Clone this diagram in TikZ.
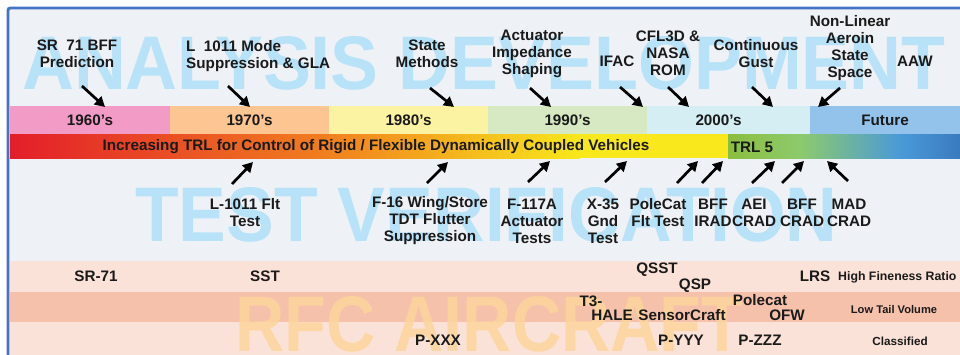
\documentclass[tikz,border=0pt]{standalone}
\usepackage{fontspec}
\setmainfont{Liberation Sans}
\usepackage{xcolor}
\usetikzlibrary{arrows.meta,positioning}

\definecolor{frameblue}{HTML}{4472C4}
\definecolor{panelbg}{HTML}{EEF1F6}
\definecolor{c1960}{HTML}{F29BC6}
\definecolor{c1970}{HTML}{FCC592}
\definecolor{c1980}{HTML}{FBF3A2}
\definecolor{c1990}{HTML}{D6E9C2}
\definecolor{c2000}{HTML}{D5EEF4}
\definecolor{cfuture}{HTML}{93C3EA}
\definecolor{trlred}{HTML}{E31E2A}
\definecolor{trlorange}{HTML}{F07D1F}
\definecolor{trlyellow}{HTML}{F8E81C}
\definecolor{trlgreen}{HTML}{8BBE3F}
\definecolor{trllime}{HTML}{8DCA6C}
\definecolor{trlsky}{HTML}{4A9AD8}
\definecolor{trlblue}{HTML}{3673B9}
\definecolor{rowlight}{HTML}{FBE2D8}
\definecolor{rowdark}{HTML}{F6C1AB}
\definecolor{wmblue}{HTML}{B8E2F8}
\definecolor{wmorange}{HTML}{FDD49C}
\definecolor{ink}{HTML}{1A1A1A}

\begin{document}
\begin{tikzpicture}[
  x=0.03cm, y=-0.03cm,
  every node/.style={font=\bfseries\fontsize{13}{14.5}\selectfont, align=center, text=ink, inner sep=0pt},
  lbl/.style={},
  small/.style={font=\bfseries\fontsize{10}{12}\selectfont},
  decade/.style={minimum height=0.84cm, outer sep=0pt},
  wmark/.style={anchor=south west, font=\bfseries},
  arw/.style={-{Triangle[length=3mm,width=3.2mm]}, line width=2.3pt, color=black}
]
\useasboundingbox (0,0) rectangle (960,354);
\clip (0,0) rectangle (960,354);

% panel and frame
\fill[white] (0,0) rectangle (960,354);
\draw[frameblue, line width=2.5pt, fill=panelbg, rounded corners=2pt] (8,8) rectangle (980,380);

% aircraft rows
\fill[rowlight] (10,261) rectangle (975,292);
\fill[rowdark] (10,292) rectangle (975,322);
\fill[rowlight] (10,322) rectangle (975,375);

% watermarks
\node[wmark, text=wmblue] (wmana) at (22,90) {\resizebox{27.69cm}{1.59cm}{ANALYSIS DEVELOPMENT}};
\node[wmark, text=wmblue] (wmtest) at (135,242) {\resizebox{21.06cm}{1.62cm}{TEST VERIFICATION}};
\node[wmark, text=wmorange, opacity=0.85] (wmrfc) at (235,352) {\resizebox{15.24cm}{1.65cm}{RFC AIRCRAFT}};

% decade band
\node[decade, fill=c1960, minimum width=4.8cm] (d1960) at (90,120) {1960's};
\node[decade, fill=c1970, minimum width=4.77cm, right=0pt of d1960] (d1970) {1970's};
\node[decade, fill=c1980, minimum width=4.77cm, right=0pt of d1970] (d1980) {1980's};
\node[decade, fill=c1990, minimum width=4.77cm, right=0pt of d1980] (d1990) {1990's};
\node[decade, fill=c2000, minimum width=4.89cm, right=0pt of d1990] (d2000) {2000's\hspace{0.6cm}};
\node[decade, fill=cfuture, minimum width=4.5cm, right=0pt of d2000] (dfuture) {Future};

% TRL bar
\shade[left color=trlred, right color=trlorange] (10,134) rectangle (320,158);
\shade[left color=trlorange, right color=trlyellow] (319.5,134) rectangle (580,158);
\fill[trlyellow] (579.5,134) rectangle (728,158);
\shade[left color=trlgreen, right color=trllime] (728,134) rectangle (800,158);
\shade[left color=trllime, right color=trlsky] (799.5,134) rectangle (900,158);
\shade[left color=trlsky, right color=trlblue] (899.5,134) rectangle (975,158);
\node (trltext) at (376,147) {Increasing TRL for Control of Rigid / Flexible Dynamically Coupled Vehicles};
\node (trl5) at (752,147) {TRL 5};

% analysis development
\node[lbl] (srbff) at (77,54) {SR\ \ 71 BFF\\Prediction};
\node[lbl, anchor=west, align=left] (l1011) at (186,56) {L\ \ 1011 Mode\\Suppression \& GLA};
\node[lbl] (state) at (427,54) {State\\Methods};
\node[lbl] (actimp) at (532,54) {Actuator\\Impedance\\Shaping};
\node[lbl] (ifac) at (617,61) {IFAC};
\node[lbl] (cfl3d) at (668,53) {CFL3D \&\\NASA\\ROM};
\node[lbl] (gust) at (756,54) {Continuous\\Gust};
\node[lbl] (nonlin) at (850,48) {Non-Linear\\Aeroin\\State\\Space};
\node[lbl] (aaw) at (915,61) {AAW};

\coordinate (srbffT) at (82,86);   \coordinate (srbffH) at (105,107);
\coordinate (l1011T) at (228,86);  \coordinate (l1011H) at (250,107);
\coordinate (stateT) at (430,88);  \coordinate (stateH) at (454,107);
\coordinate (actimpT) at (530,88); \coordinate (actimpH) at (551,107);
\coordinate (ifacT) at (620,87);   \coordinate (ifacH) at (643,107);
\coordinate (cfl3dT) at (668,87);  \coordinate (cfl3dH) at (689,107);
\coordinate (gustT) at (752,87);   \coordinate (gustH) at (773,107);
\coordinate (nonlinT) at (840,88); \coordinate (nonlinH) at (818,107);

\draw[arw] (srbffT)--(srbffH);
\draw[arw] (l1011T)--(l1011H);
\draw[arw] (stateT)--(stateH);
\draw[arw] (actimpT)--(actimpH);
\draw[arw] (ifacT)--(ifacH);
\draw[arw] (cfl3dT)--(cfl3dH);
\draw[arw] (gustT)--(gustH);
\draw[arw] (nonlinT)--(nonlinH);

% test verification
\node[lbl] (l1011flt) at (245,213) {L-1011 Flt\\Test};
\node[lbl] (f16) at (430,221) {F-16 Wing/Store\\TDT Flutter\\Suppression};
\node[lbl] (f117) at (532,221) {F-117A\\Actuator\\Tests};
\node[lbl] (x35) at (603,221) {X-35\\Gnd\\Test};
\node[lbl] (polecatflt) at (658,213) {PoleCat\\Flt Test};
\node[lbl] (bffirad) at (713,213) {BFF\\IRAD};
\node[lbl] (aeicrad) at (754,213) {AEI\\CRAD};
\node[lbl] (bffcrad) at (802,213) {BFF\\CRAD};
\node[lbl] (madcrad) at (849,213) {MAD\\CRAD};

\coordinate (l1011fltT) at (232,184);   \coordinate (l1011fltH) at (253,162);
\coordinate (f16T) at (427,183);        \coordinate (f16H) at (448,162);
\coordinate (f117T) at (528,182);       \coordinate (f117H) at (550,161);
\coordinate (x35T) at (605,182);        \coordinate (x35H) at (627,161);
\coordinate (polecatfltT) at (677,183); \coordinate (polecatfltH) at (698,161);
\coordinate (bffiradT) at (702,183);    \coordinate (bffiradH) at (723,161);
\coordinate (aeicradT) at (752,183);    \coordinate (aeicradH) at (775,161);
\coordinate (bffcradT) at (782,183);    \coordinate (bffcradH) at (804,161);
\coordinate (madcradT) at (848,181);    \coordinate (madcradH) at (827,161);

\draw[arw] (l1011fltT)--(l1011fltH);
\draw[arw] (f16T)--(f16H);
\draw[arw] (f117T)--(f117H);
\draw[arw] (x35T)--(x35H);
\draw[arw] (polecatfltT)--(polecatfltH);
\draw[arw] (bffiradT)--(bffiradH);
\draw[arw] (aeicradT)--(aeicradH);
\draw[arw] (bffcradT)--(bffcradH);
\draw[arw] (madcradT)--(madcradH);

% rfc aircraft
\node (sr71) at (96,276) {SR-71};
\node (sst) at (265,276) {SST};
\node (qsst) at (657,270) {QSST};
\node (qsp) at (695,286) {QSP};
\node (lrs) at (815,276) {LRS};
\node[small, font=\bfseries\fontsize{10.5}{12}\selectfont, anchor=west] (hifine) at (838,277) {High Fineness Ratio};
\node (t3) at (591,301) {T3-};
\node (hale) at (612,315) {HALE};
\node (sensorcraft) at (682,315) {SensorCraft};
\node (polecat) at (760,300) {Polecat};
\node (ofw) at (787,315) {OFW};
\node[small, font=\bfseries\fontsize{9.5}{12}\selectfont] (lowtail) at (894,310) {Low Tail Volume};
\node (pxxx) at (438,340) {P-XXX};
\node (pyyy) at (681,340) {P-YYY};
\node (pzzz) at (760,340) {P-ZZZ};
\node[small] (classified) at (900,341) {Classified};

\end{tikzpicture}
\end{document}
